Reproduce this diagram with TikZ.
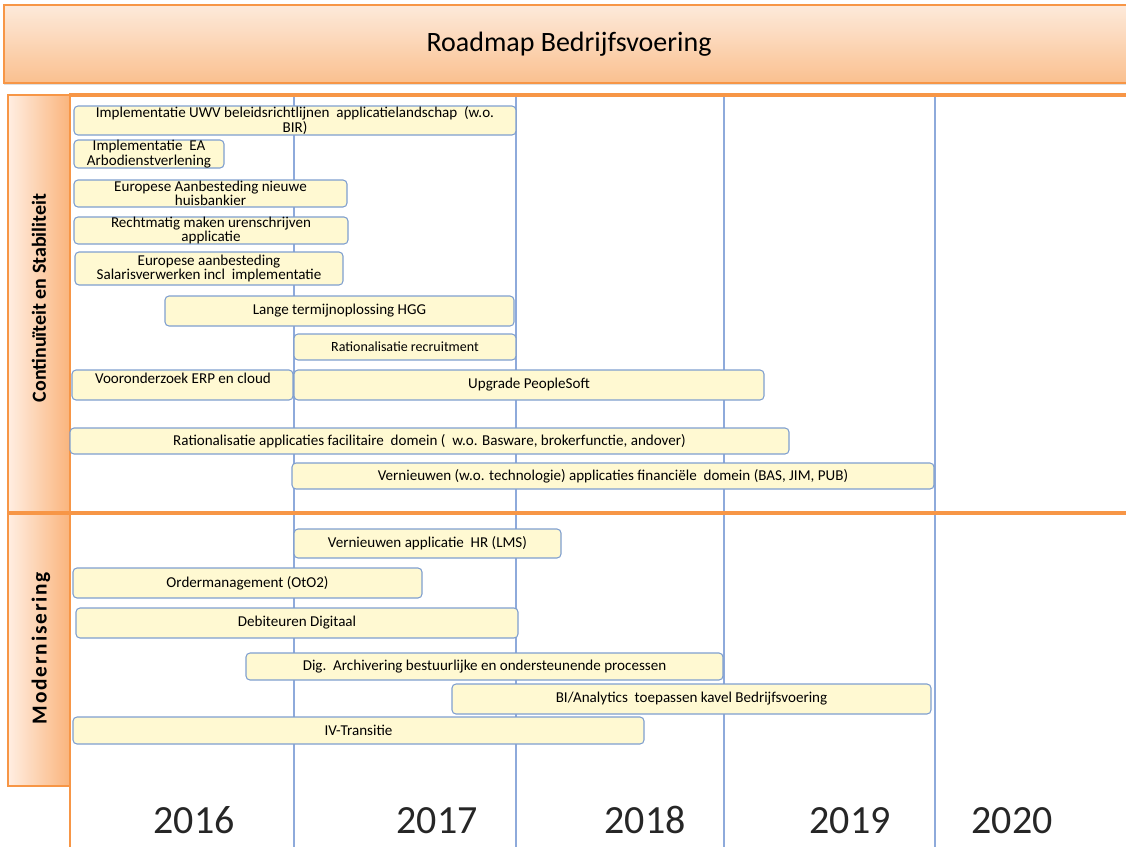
\documentclass[tikz,border=0pt]{standalone}
\usepackage{fontspec}
\setmainfont{Carlito}[Numbers=Lining]
\usetikzlibrary{shadows}
\definecolor{orng}{HTML}{F79646}
\definecolor{ttop}{HTML}{FDEADB}
\definecolor{tbot}{HTML}{FAC08F}
\definecolor{cleft}{HTML}{FFEEE2}
\definecolor{cright}{HTML}{FAB47C}
\definecolor{barfill}{HTML}{FFF9D2}
\definecolor{barline}{HTML}{7F9FCF}
\definecolor{grid}{HTML}{8EAADB}
\tikzset{
  bar/.style={draw=barline, line width=0.8pt, fill=barfill, rounded corners=3pt, inner sep=0pt, align=center, font=\fontsize{11.3}{10.6}\selectfont},
  titlebox/.style={draw=orng, line width=1.2pt, top color=ttop, bottom color=tbot, inner sep=0pt, font=\fontsize{21}{24}\selectfont},
  colbox/.style={draw=orng, line width=1.5pt, left color=cleft, right color=cright, inner sep=0pt},
  coltext/.style={rotate=90, font=\bfseries\fontsize{15}{17}\selectfont},
  yeartext/.style={anchor=base, inner sep=0pt, font=\fontsize{30}{34}\selectfont, text=black!85},
  gridline/.style={draw=grid, line width=0.8pt},
  orline/.style={draw=orng, line width=2pt}
}
\newcommand\gbar[6]{\node[bar, minimum width={(#3-#2)*0.75pt}, minimum height={(#5-#4)*0.75pt}] (#1) at ({(#2+#3)/2},{(#4+#5)/2}) {#6};}
\begin{document}
\begin{tikzpicture}[x=0.75pt,y=-0.75pt]
\useasboundingbox (0,0) rectangle (1126,847);
% title
\node[titlebox, drop shadow={opacity=0.25, shadow xshift=0pt, shadow yshift=-1.5pt}, minimum width={1130*0.75pt}, minimum height={78*0.75pt}] (title) at (569,44) {Roadmap Bedrijfsvoering};
% grid lines
\foreach \x/\n in {294/g1,516/g2,724/g3,935/g4} {
  \coordinate (\n t) at (\x,95);
  \coordinate (\n b) at (\x,847);
  \draw[gridline] (\n t) -- (\n b);
}
% left columns
\node[colbox, minimum width={62*0.75pt}, minimum height={418*0.75pt}] (col1) at (39,304) {};
\node[colbox, minimum width={62*0.75pt}, minimum height={272*0.75pt}] (col2) at (39,650) {};
\node[coltext] (col1t) at (39,298) {Continuïteit en Stabiliteit};
\node[coltext, font=\bfseries\fontsize{16}{18}\selectfont\addfontfeatures{LetterSpace=8.5}] (col2t) at (41,648) {Modernisering};
% orange frame lines
\coordinate (vt) at (70,93);
\coordinate (vb) at (70,847);
\coordinate (ht1) at (70,95);
\coordinate (ht2) at (1126,95);
\coordinate (hm1) at (8,513);
\coordinate (hm2) at (1126,513);
\draw[orline] (vt) -- (vb);
\draw[orline, line width=2.4pt] (ht1) -- (ht2);
\draw[orline, line width=2.4pt] (hm1) -- (hm2);
% bars: continuiteit
\gbar{b1}{74}{516}{106}{135}{Implementatie UWV beleidsrichtlijnen\ \ applicatielandschap\ \ (w.o.\\BIR)}
\gbar{b2}{74}{224}{140}{168}{Implementatie\ \ EA\\Arbodienstverlening}
\gbar{b3}{74}{347}{180}{207}{Europese Aanbesteding nieuwe\\huisbankier}
\gbar{b4}{74}{348}{217}{244}{Rechtmatig maken urenschrijven\\applicatie}
\gbar{b5}{75}{343}{252}{285}{Europese aanbesteding\\Salarisverwerken incl\ \ implementatie}
\gbar{b6}{165}{514}{296}{326}{Lange termijnoplossing HGG}
\node[bar, font=\fontsize{10.5}{12}\selectfont, minimum width={222*0.75pt}, minimum height={26*0.75pt}] (b7) at (405,347) {Rationalisatie recruitment};
\gbar{b8}{72}{293}{370}{400}{}
\node[font=\fontsize{11.3}{12}\selectfont] (b8t) at (183,378) {Vooronderzoek ERP en cloud};
\gbar{b9}{294}{764}{370}{400}{Upgrade PeopleSoft}
\gbar{b10}{70}{789}{428}{454}{Rationalisatie applicaties facilitaire\ \ domein (\ \ w.o. Basware, brokerfunctie, andover)}
\gbar{b11}{292}{934}{463}{489}{Vernieuwen (w.o. technologie) applicaties financiële\ \ domein (BAS, JIM, PUB)}
% bars: modernisering
\gbar{m1}{294}{561}{529}{558}{Vernieuwen applicatie\ \ HR (LMS)}
\gbar{m2}{73}{422}{568}{598}{Ordermanagement (OtO2)}
\gbar{m3}{76}{518}{608}{638}{Debiteuren Digitaal}
\gbar{m4}{246}{723}{653}{680}{Dig.\ \ Archivering bestuurlijke en ondersteunende processen}
\gbar{m5}{452}{931}{684}{714}{BI/Analytics\ \ toepassen kavel Bedrijfsvoering}
\gbar{m6}{73}{644}{717}{744}{IV-Transitie}
% years
\node[yeartext] (y2016) at (194,833) {2016};
\node[yeartext] (y2017) at (437,833) {2017};
\node[yeartext] (y2018) at (645,833) {2018};
\node[yeartext] (y2019) at (850,833) {2019};
\node[yeartext] (y2020) at (1012,833) {2020};
\end{tikzpicture}
\end{document}
